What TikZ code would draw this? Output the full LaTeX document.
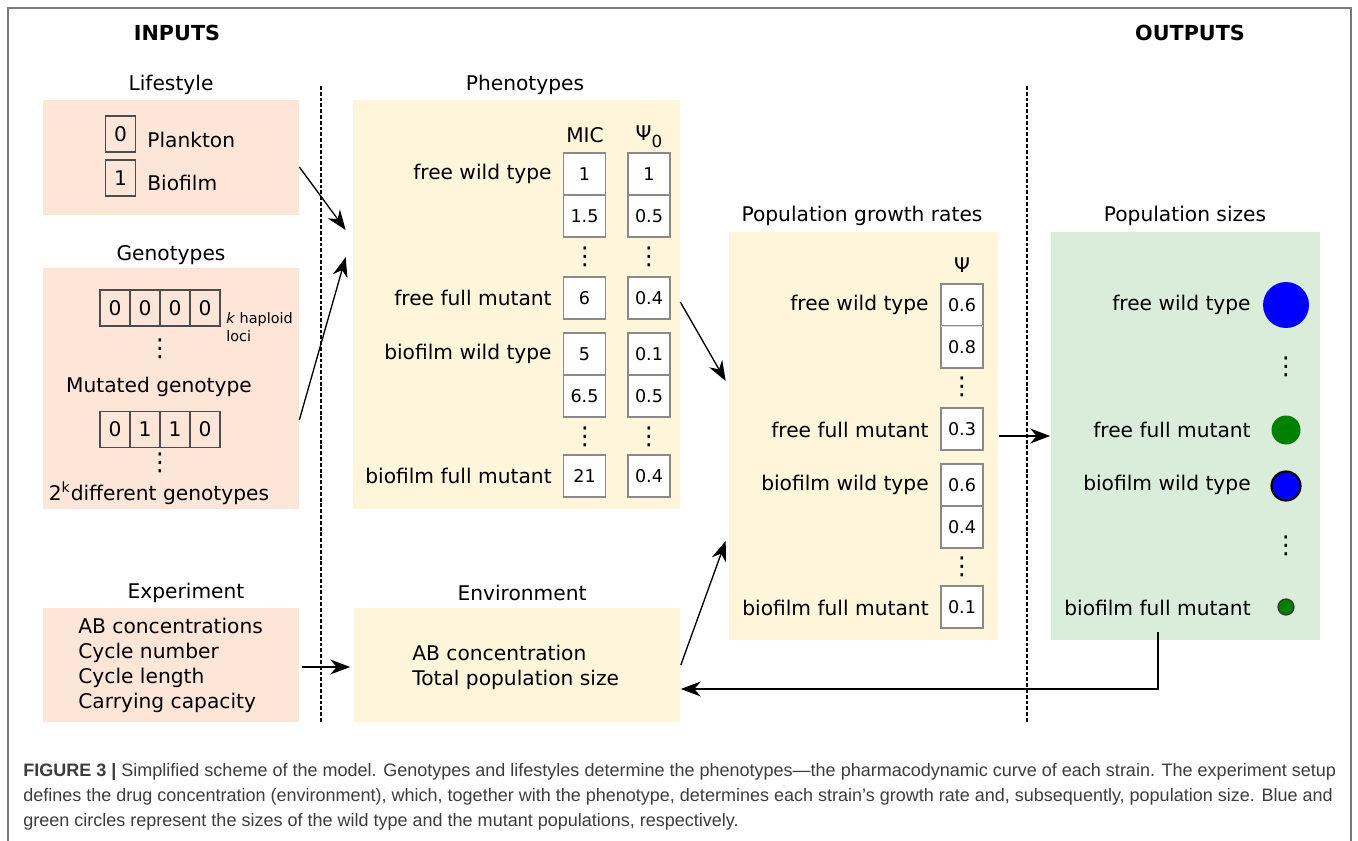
\documentclass[tikz,border=0pt]{standalone}
\usepackage{fontspec}
\setmainfont{DejaVu Sans}
\newfontfamily\captionfont{Liberation Sans}
\usetikzlibrary{arrows.meta}
\usetikzlibrary{positioning}
\definecolor{lifesalmon}{HTML}{FDE6D8}
\definecolor{phenoyellow}{HTML}{FEF5DA}
\definecolor{sizegreen}{HTML}{DAEDDA}
\definecolor{wildblue}{HTML}{0000FF}
\definecolor{mutantgreen}{HTML}{008000}
\definecolor{framegray}{HTML}{7A7A7A}
\definecolor{cellgray}{HTML}{8A8A8A}
\definecolor{captiongray}{HTML}{3C3C3C}
\tikzset{
  inpanel/.style={fill=lifesalmon, inner sep=0pt, minimum width=5.12cm},
  midpanel/.style={fill=phenoyellow, inner sep=0pt},
  outpanel/.style={fill=sizegreen, inner sep=0pt, minimum width=5.4cm, minimum height=8.16cm},
  paneltitle/.style={inner sep=0pt},
  rowname/.style={anchor=east, inner sep=0pt},
  valcell/.style={draw=cellgray, fill=white, line width=0.6pt, minimum width=0.84cm, minimum height=0.84cm, inner sep=0pt, font=\fontsize{10}{12}\selectfont},
  bitcell/.style={draw=black!70, line width=0.6pt, minimum width=0.6cm, minimum height=0.72cm, inner sep=0pt},
  moredots/.style={inner sep=0pt, font=\fontsize{14}{16}\selectfont},
  sizedot/.style={circle, inner sep=0pt},
  flow/.style={-{Stealth[length=0.4cm,width=0.3cm]}, line width=0.75pt},
  divider/.style={dash pattern=on 2.2pt off 1.1pt, line width=0.6pt},
  captionline/.style={anchor=west, inner sep=0pt, text=captiongray, font=\captionfont\fontsize{10.25}{12}\selectfont}
}

\begin{document}
\begin{tikzpicture}[x=0.02cm, y=-0.02cm, font=\fontsize{11.5}{14.2}\selectfont]
  \useasboundingbox (0,0) rectangle (1358,841);
  \draw[framegray, line width=1.1pt] (8,841) -- (8,8) -- (1351,8) -- (1351,841);

  \node[paneltitle, font=\bfseries\fontsize{11.8}{14}\selectfont] (inputs) at (177,33) {INPUTS};
  \node[paneltitle, font=\bfseries\fontsize{11.8}{14}\selectfont] (outputs) at (1190,33) {OUTPUTS};
  \draw[divider] (321,86) -- (321,722);
  \draw[divider] (1027,86) -- (1027,722);

  \node[inpanel, minimum height=2.3cm] (life) at (171,157.5) {};
  \node[paneltitle] (lifetitle) at (171,85) {Lifestyle};
  \node[bitcell] (planktonbit) at (120.5,134) {0};
  \node[anchor=west, inner sep=0pt] (plankton) at (147,140) {Plankton};
  \node[bitcell] (biofilmbit) at (120.5,178) {1};
  \node[anchor=west, inner sep=0pt] (biofilm) at (147,183) {Biofilm};

  \node[inpanel, minimum height=4.82cm] (geno) at (171,388.5) {};
  \node[paneltitle] (genotitle) at (171,255) {Genotypes};
  \foreach \b [count=\i] in {0,0,0,0}
    \node[bitcell] (wild\i) at (85+30*\i,308) {\b};
  \node[anchor=west, inner sep=0pt, align=left, font=\fontsize{8.2}{10.2}\selectfont] (loci) at (226,327) {\textit{k} haploid\\loci};
  \node[moredots] (genodotsa) at (160,349) {⋮};
  \node (mutated) at (159,387) {Mutated genotype};
  \foreach \b [count=\i] in {0,1,1,0}
    \node[bitcell] (mut\i) at (85+30*\i,429.5) {\b};
  \node[moredots] (genodotsb) at (160,463) {⋮};
  \node (allgeno) at (159,493) {2\textsuperscript{k}different genotypes};

  \node[inpanel, minimum height=2.3cm] (expt) at (171,665) {};
  \node[paneltitle] (expttitle) at (186,593) {Experiment};
  \node[anchor=west, align=left, inner sep=0pt] (exptlist) at (78,665.5) {AB concentrations\\Cycle number\\Cycle length\\Carrying capacity};

  \node[midpanel, minimum width=6.54cm, minimum height=8.18cm] (pheno) at (516.5,304.5) {};
  \node[paneltitle] (phenotitle) at (525,85) {Phenotypes};
  \node (mic) at (585,135) {MIC};
  \node (psizero) at (649,137) {Ψ\raisebox{-0.6ex}{\fontsize{9.5}{11}\selectfont 0}};
  \node[rowname] (pfwt) at (552,174) {free wild type};
  \node[rowname] (pffm) at (552,298) {free full mutant};
  \node[rowname] (pbwt) at (552,354) {biofilm wild type};
  \node[rowname] (pbfm) at (552,476) {biofilm full mutant};
  \foreach \y/\m/\p [count=\i] in {174/1/1, 216/1.5/0.5, 298/6/0.4, 354/5/0.1, 396/6.5/0.5, 476/21/0.4} {
    \node[valcell] (mic\i) at (584.5,\y) {\m};
    \node[valcell] (psi\i) at (649,\y) {\p};
  }
  \node[moredots] (micdotsa) at (585,257) {⋮};
  \node[moredots] (psidotsa) at (649,257) {⋮};
  \node[moredots] (micdotsb) at (585,437) {⋮};
  \node[moredots] (psidotsb) at (649,437) {⋮};

  \node[midpanel, minimum width=6.54cm, minimum height=2.3cm] (env) at (517,665) {};
  \node[paneltitle] (envtitle) at (522,593) {Environment};
  \node[anchor=west, align=left, inner sep=0pt] (envlist) at (412,667.5) {AB concentration\\Total population size};

  \node[midpanel, minimum width=5.4cm, minimum height=8.16cm] (growth) at (863.5,436) {};
  \node[paneltitle] (growthtitle) at (862,216) {Population growth rates};
  \node (psi) at (962,265) {Ψ};
  \node[rowname] (gfwt) at (929,305) {free wild type};
  \node[rowname] (gffm) at (929,430) {free full mutant};
  \node[rowname] (gbwt) at (929,485) {biofilm wild type};
  \node[rowname] (gbfm) at (929,608) {biofilm full mutant};
  \foreach \y/\g [count=\i] in {305/0.6, 347/0.8, 429/0.3, 485/0.6, 527/0.4, 607/0.1}
    \node[valcell] (rate\i) at (962,\y) {\g};
  \draw[white, line width=0.8pt] ([xshift=0.4pt]rate1.south west) -- ([xshift=-0.4pt]rate1.south east);
  \draw[cellgray!30, line width=0.5pt] ([xshift=0.4pt]rate1.south west) -- ([xshift=-0.4pt]rate1.south east);
  \node[moredots] (ratedotsa) at (962,387) {⋮};
  \node[moredots] (ratedotsb) at (962,567) {⋮};

  \node[outpanel] (sizes) at (1185.5,436) {};
  \node[paneltitle] (sizestitle) at (1185,216) {Population sizes};
  \node[rowname] (sfwt) at (1251,305) {free wild type};
  \node[rowname] (sffm) at (1251,430) {free full mutant};
  \node[rowname] (sbwt) at (1251,485) {biofilm wild type};
  \node[rowname] (sbfm) at (1251,608) {biofilm full mutant};
  \node[sizedot, fill=wildblue, minimum size=0.92cm] (fwtdot) at (1286,305) {};
  \node[moredots] (sizedotsa) at (1286,367) {⋮};
  \node[sizedot, fill=mutantgreen, minimum size=0.58cm] (ffmdot) at (1286,430) {};
  \node[sizedot, fill=wildblue, draw=black, line width=1.2pt, minimum size=0.58cm] (bwtdot) at (1286,486) {};
  \node[moredots] (sizedotsb) at (1286,546) {⋮};
  \node[sizedot, fill=mutantgreen, draw=black!80, line width=0.7pt, minimum size=0.32cm] (bfmdot) at (1286,607) {};

  \draw[flow] ([yshift=-0.19cm]life.east) -- ([xshift=-0.14cm,yshift=1.49cm]pheno.west);
  \draw[flow] ([yshift=-0.63cm]geno.east) -- ([xshift=-0.14cm,yshift=0.95cm]pheno.west);
  \draw[flow] ([xshift=0.06cm,yshift=-0.04cm]expt.east) -- ([xshift=-0.06cm,yshift=-0.04cm]env.west);
  \draw[flow] ([yshift=0.05cm]pheno.east) -- ([xshift=-0.05cm,yshift=1.1cm]growth.west);
  \draw[flow] (env.east) -- ([xshift=-0.05cm,yshift=-2.1cm]growth.west);
  \draw[flow] (growth.east) -- (sizes.west);
  \draw[flow] ([xshift=-0.55cm,yshift=0.16cm]sizes.south) |- ([yshift=-0.48cm]env.east);

  \node[captionline] (cap1) at (23,772) {\textbf{FIGURE 3 |} Simplified scheme of the model. Genotypes and lifestyles determine the phenotypes—the pharmacodynamic curve of each strain. The experiment setup};
  \node[captionline] (cap2) at (23,797) {defines the drug concentration (environment), which, together with the phenotype, determines each strain’s growth rate and, subsequently, population size. Blue and};
  \node[captionline] (cap3) at (23,822) {green circles represent the sizes of the wild type and the mutant populations, respectively.};
\end{tikzpicture}
\end{document}
